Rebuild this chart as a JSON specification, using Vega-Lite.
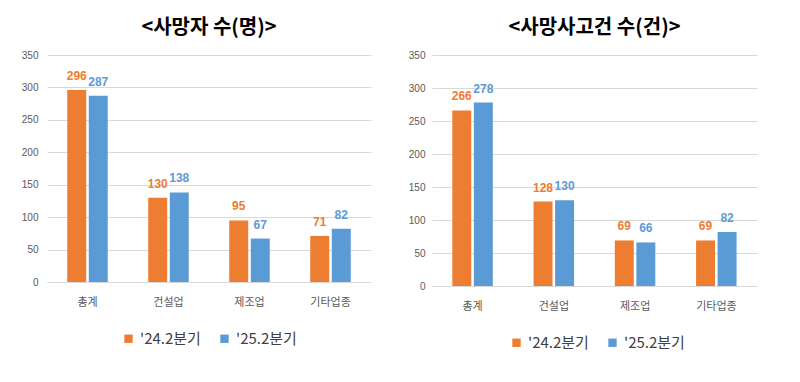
{
  "$schema": "https://vega.github.io/schema/vega-lite/v6.json",
  "background": "white",
  "padding": {"top": 18, "left": 21, "right": 10, "bottom": 10},
  "data": {"values": [
    {"panel": "A", "category": "총계", "period": "'24.2분기", "value": 296},
    {"panel": "A", "category": "총계", "period": "'25.2분기", "value": 287},
    {"panel": "A", "category": "건설업", "period": "'24.2분기", "value": 130},
    {"panel": "A", "category": "건설업", "period": "'25.2분기", "value": 138},
    {"panel": "A", "category": "제조업", "period": "'24.2분기", "value": 95},
    {"panel": "A", "category": "제조업", "period": "'25.2분기", "value": 67},
    {"panel": "A", "category": "기타업종", "period": "'24.2분기", "value": 71},
    {"panel": "A", "category": "기타업종", "period": "'25.2분기", "value": 82},
    {"panel": "B", "category": "총계", "period": "'24.2분기", "value": 266},
    {"panel": "B", "category": "총계", "period": "'25.2분기", "value": 278},
    {"panel": "B", "category": "건설업", "period": "'24.2분기", "value": 128},
    {"panel": "B", "category": "건설업", "period": "'25.2분기", "value": 130},
    {"panel": "B", "category": "제조업", "period": "'24.2분기", "value": 69},
    {"panel": "B", "category": "제조업", "period": "'25.2분기", "value": 66},
    {"panel": "B", "category": "기타업종", "period": "'24.2분기", "value": 69},
    {"panel": "B", "category": "기타업종", "period": "'25.2분기", "value": 82}
  ]},
  "spacing": 37,
  "resolve": {"scale": {"color": "independent", "y": "independent", "x": "independent"}, "legend": {"color": "independent"}},
  "hconcat": [
    {
      "width": 324,
      "height": 227,
      "title": {"text": "<사망자 수(명)>"},
      "transform": [{"filter": "datum.panel === 'A'"}],
      "encoding": {
        "x": {"field": "category", "type": "nominal", "sort": ["총계", "건설업", "제조업", "기타업종"], "title": null,
              "scale": {"paddingInner": 0.5, "paddingOuter": 0.25},
              "axis": {"labelAngle": 0, "ticks": false, "labelPadding": 14, "domainColor": "#d9d9d9"}},
        "xOffset": {"field": "period", "type": "nominal", "scale": {"paddingInner": 0.12}},
        "y": {"field": "value", "type": "quantitative", "title": null,
              "scale": {"domain": [0, 350], "nice": false},
              "axis": {"values": [0, 50, 100, 150, 200, 250, 300, 350], "ticks": false, "domain": false, "labelPadding": 9}}
      },
      "layer": [
        {"mark": {"type": "bar"},
         "encoding": {"color": {"field": "period", "type": "nominal", "title": null,
            "scale": {"domain": ["'24.2분기", "'25.2분기"], "range": ["#ED7D31", "#5B9BD5"]},
            "legend": {"orient": "none", "direction": "horizontal", "legendX": 74, "legendY": 276}}}},
        {"mark": {"type": "text", "dy": -14, "fontWeight": "bold", "fontSize": 12, "font": "Liberation Sans Narrow, Liberation Sans, sans-serif"},
         "encoding": {"text": {"field": "value", "type": "quantitative"},
            "color": {"field": "period", "type": "nominal", "legend": null}}}
      ]
    },
    {
      "width": 325,
      "height": 231,
      "title": {"text": "<사망사고건 수(건)>"},
      "transform": [{"filter": "datum.panel === 'B'"}],
      "encoding": {
        "x": {"field": "category", "type": "nominal", "sort": ["총계", "건설업", "제조업", "기타업종"], "title": null,
              "scale": {"paddingInner": 0.5, "paddingOuter": 0.25},
              "axis": {"labelAngle": 0, "ticks": false, "labelPadding": 14, "domainColor": "#d9d9d9"}},
        "xOffset": {"field": "period", "type": "nominal", "scale": {"paddingInner": 0.12}},
        "y": {"field": "value", "type": "quantitative", "title": null,
              "scale": {"domain": [0, 350], "nice": false},
              "axis": {"values": [0, 50, 100, 150, 200, 250, 300, 350], "ticks": false, "domain": false, "labelPadding": 7}}
      },
      "layer": [
        {"mark": {"type": "bar"},
         "encoding": {"color": {"field": "period", "type": "nominal", "title": null,
            "scale": {"domain": ["'24.2분기", "'25.2분기"], "range": ["#ED7D31", "#5B9BD5"]},
            "legend": {"orient": "none", "direction": "horizontal", "legendX": 77, "legendY": 280}}}},
        {"mark": {"type": "text", "dy": -14, "fontWeight": "bold", "fontSize": 12, "font": "Liberation Sans Narrow, Liberation Sans, sans-serif"},
         "encoding": {"text": {"field": "value", "type": "quantitative"},
            "color": {"field": "period", "type": "nominal", "legend": null}}}
      ]
    }
  ],
  "config": {
    "view": {"stroke": null},
    "font": "Noto Sans CJK KR",
    "title": {"fontSize": 20, "fontWeight": "bold", "color": "#000000", "font": "Noto Sans CJK KR", "offset": 12},
    "axis": {"gridColor": "#d9d9d9", "labelColor": "#595959", "labelFont": "Noto Sans CJK KR"},
    "axisX": {"labelFontSize": 11},
    "axisY": {"labelFontSize": 10, "labelFont": "Liberation Sans Narrow, Liberation Sans, sans-serif"},
    "legend": {"labelFontSize": 15, "labelColor": "#404040", "symbolType": "square", "symbolSize": 70, "symbolStrokeWidth": 0, "columnPadding": 16, "labelOffset": 4, "labelFont": "Noto Sans CJK KR"}
  }
}
